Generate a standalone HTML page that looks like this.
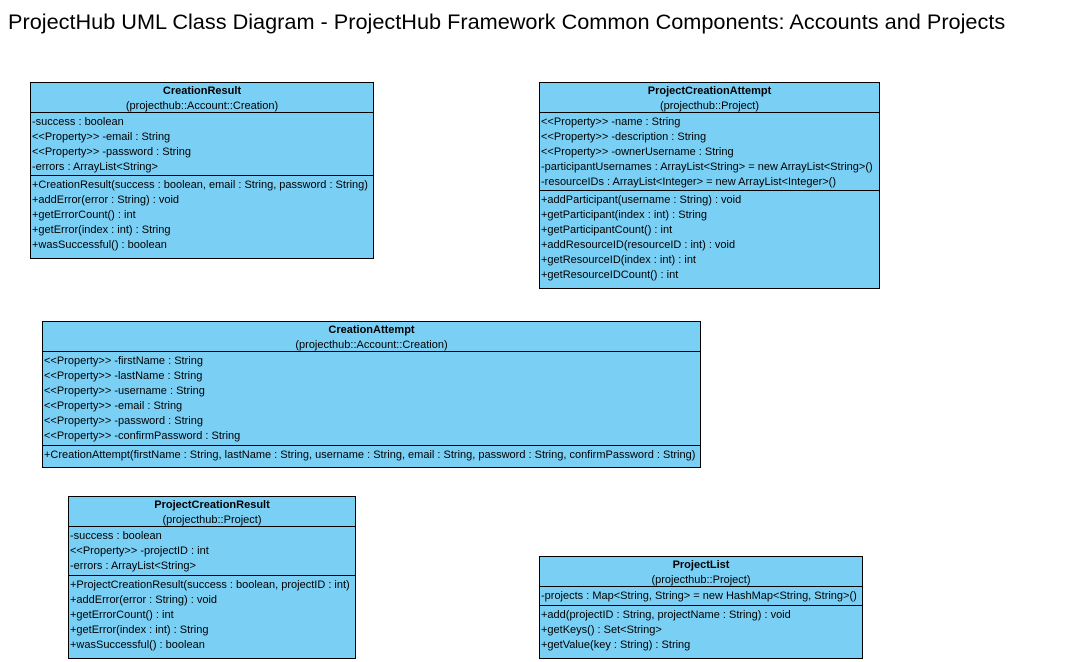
<!DOCTYPE html>
<html><head><meta charset="utf-8"><style>
body{margin:0;width:1067px;height:662px;background:#fff;position:relative;overflow:hidden;font-family:"Liberation Sans",Arial,sans-serif;}
.t{position:absolute;left:8px;top:9px;font-size:21.7px;color:#000;white-space:nowrap}
.b{position:absolute;background:#7acff5;border:1px solid #000;box-sizing:border-box;font-size:11px;line-height:15px;color:#000;white-space:nowrap;overflow:hidden}
.h{height:30px;text-align:center;border-bottom:1px solid #000;box-sizing:border-box;padding-top:1px}
.h b{display:block}
.s{border-bottom:1px solid #000;box-sizing:border-box;padding:2px 0 0 1px}
.m{padding:2px 0 0 1px}
</style></head><body>
<div class="t">ProjectHub UML Class Diagram - ProjectHub Framework Common Components: Accounts and Projects</div>

<div class="b" style="left:30px;top:82px;width:344px;height:177px">
<div class="h"><b>CreationResult</b>(projecthub::Account::Creation)</div>
<div class="s" style="height:63px">-success : boolean<br>&lt;&lt;Property&gt;&gt; -email : String<br>&lt;&lt;Property&gt;&gt; -password : String<br>-errors : ArrayList&lt;String&gt;</div>
<div class="m">+CreationResult(success : boolean, email : String, password : String)<br>+addError(error : String) : void<br>+getErrorCount() : int<br>+getError(index : int) : String<br>+wasSuccessful() : boolean</div>
</div>

<div class="b" style="left:539px;top:82px;width:341px;height:207px">
<div class="h"><b>ProjectCreationAttempt</b>(projecthub::Project)</div>
<div class="s" style="height:78px">&lt;&lt;Property&gt;&gt; -name : String<br>&lt;&lt;Property&gt;&gt; -description : String<br>&lt;&lt;Property&gt;&gt; -ownerUsername : String<br>-participantUsernames : ArrayList&lt;String&gt; = new ArrayList&lt;String&gt;()<br>-resourceIDs : ArrayList&lt;Integer&gt; = new ArrayList&lt;Integer&gt;()</div>
<div class="m">+addParticipant(username : String) : void<br>+getParticipant(index : int) : String<br>+getParticipantCount() : int<br>+addResourceID(resourceID : int) : void<br>+getResourceID(index : int) : int<br>+getResourceIDCount() : int</div>
</div>

<div class="b" style="left:42px;top:321px;width:659px;height:147px">
<div class="h"><b>CreationAttempt</b>(projecthub::Account::Creation)</div>
<div class="s" style="height:94px">&lt;&lt;Property&gt;&gt; -firstName : String<br>&lt;&lt;Property&gt;&gt; -lastName : String<br>&lt;&lt;Property&gt;&gt; -username : String<br>&lt;&lt;Property&gt;&gt; -email : String<br>&lt;&lt;Property&gt;&gt; -password : String<br>&lt;&lt;Property&gt;&gt; -confirmPassword : String</div>
<div class="m">+CreationAttempt(firstName : String, lastName : String, username : String, email : String, password : String, confirmPassword : String)</div>
</div>

<div class="b" style="left:68px;top:496px;width:288px;height:163px">
<div class="h"><b>ProjectCreationResult</b>(projecthub::Project)</div>
<div class="s" style="height:49px">-success : boolean<br>&lt;&lt;Property&gt;&gt; -projectID : int<br>-errors : ArrayList&lt;String&gt;</div>
<div class="m">+ProjectCreationResult(success : boolean, projectID : int)<br>+addError(error : String) : void<br>+getErrorCount() : int<br>+getError(index : int) : String<br>+wasSuccessful() : boolean</div>
</div>

<div class="b" style="left:539px;top:556px;width:324px;height:103px">
<div class="h"><b>ProjectList</b>(projecthub::Project)</div>
<div class="s" style="height:19px">-projects : Map&lt;String, String&gt; = new HashMap&lt;String, String&gt;()</div>
<div class="m">+add(projectID : String, projectName : String) : void<br>+getKeys() : Set&lt;String&gt;<br>+getValue(key : String) : String</div>
</div>
</body></html>
